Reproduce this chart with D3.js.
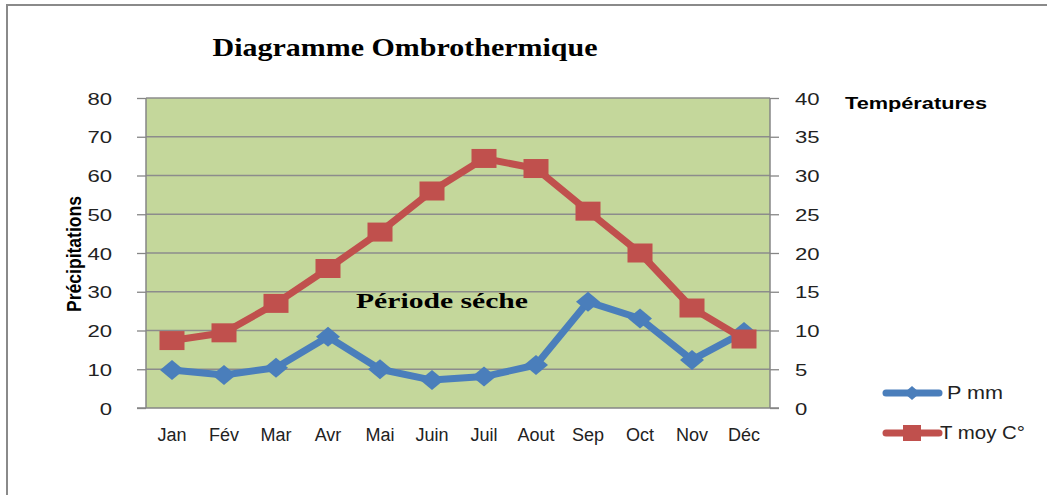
<!DOCTYPE html>
<html><head><meta charset="utf-8">
<script src="https://cdn.jsdelivr.net/npm/d3@7"></script>
<style>body{margin:0;background:#fff}svg{display:block}</style>
</head><body>
<svg id="c" width="1047" height="495"></svg>
<script>
const months = ["Jan","Fév","Mar","Avr","Mai","Juin","Juil","Aout","Sep","Oct","Nov","Déc"];
const precip = [9.8, 8.5, 10.4, 18.4, 10, 7.2, 8.1, 11.1, 27.4, 23.1, 12.4, 19.6];
const temp = [8.7, 9.7, 13.5, 18.0, 22.7, 28.0, 32.2, 30.9, 25.4, 20.0, 12.9, 8.9];
const leftTicks = [0,10,20,30,40,50,60,70,80];
const rightTicks = [0,5,10,15,20,25,30,35,40];
const seriesNames = ["P mm","T moy C°"];

const svg = d3.select("#c");
const L=146, R=770, T=98, B=408;
const x = d3.scaleBand().domain(months).range([L,R]);
const yL = d3.scaleLinear().domain([0,80]).range([B,T]);
const yR = d3.scaleLinear().domain([0,40]).range([B,T]);
const blue="#4a7ebb", red="#c0504d", grid="#8c8c8c";

// frame
svg.append("rect").attr("x",7).attr("y",5).attr("width",1060).attr("height",520)
  .attr("fill","none").attr("stroke","#8a8a8a").attr("stroke-width",2);

// plot bg
svg.append("rect").attr("x",L).attr("y",T).attr("width",R-L).attr("height",B-T).attr("fill","#c4d79b");

// gridlines
svg.append("g").selectAll("line").data(leftTicks.filter(d=>d>0)).join("line")
  .attr("x1",L).attr("x2",R).attr("y1",d=>yL(d)).attr("y2",d=>yL(d))
  .attr("stroke",grid).attr("stroke-width",1.5);

function stretch(sel, sx){
  sel.each(function(){
    const w=this.getComputedTextLength();
    d3.select(this).attr("textLength",w*sx).attr("lengthAdjust","spacingAndGlyphs");
  });
}

// left axis
const ga = svg.append("g").attr("transform",`translate(${L},0)`)
  .call(d3.axisLeft(yL).tickValues(leftTicks).tickSize(9).tickPadding(25));
ga.select(".domain").remove();
ga.selectAll("line").attr("stroke","#868686").attr("stroke-width",1.3);
ga.selectAll("text").attr("font-family","Liberation Sans, Arial").attr("font-size",17).attr("fill","#222").attr("dy","0.36em");
stretch(ga.selectAll("text"),1.3);
svg.append("line").attr("x1",L).attr("x2",L).attr("y1",T).attr("y2",B).attr("stroke","#868686").attr("stroke-width",1.5);

// right axis
const gr = svg.append("g").attr("transform",`translate(${R},0)`)
  .call(d3.axisRight(yR).tickValues(rightTicks).tickSize(9).tickPadding(16));
gr.select(".domain").remove();
gr.selectAll("line").attr("stroke","#868686").attr("stroke-width",1.3);
gr.selectAll("text").attr("font-family","Liberation Sans, Arial").attr("font-size",17).attr("fill","#222").attr("dy","0.36em");
stretch(gr.selectAll("text"),1.3);
svg.append("line").attr("x1",R).attr("x2",R).attr("y1",T).attr("y2",B).attr("stroke","#868686").attr("stroke-width",1.5);

// bottom axis
const gb = svg.append("g").attr("transform",`translate(0,${B})`)
  .call(d3.axisBottom(x).tickSize(0).tickPadding(20));
gb.select(".domain").remove();
gb.selectAll("text").attr("font-family","Liberation Sans, Arial").attr("font-size",18).attr("fill","#222");
svg.append("line").attr("x1",L-9).attr("x2",R+9).attr("y1",B).attr("y2",B).attr("stroke","#868686").attr("stroke-width",1.5);

// title
const title = svg.append("text").attr("x",405).attr("y",56).attr("text-anchor","middle")
  .attr("font-family","Liberation Serif, Times New Roman").attr("font-weight","bold").attr("font-size",26)
  .text("Diagramme Ombrothermique");
title.attr("textLength",385).attr("lengthAdjust","spacingAndGlyphs");

// axis titles
const lt = svg.append("text").attr("transform","translate(81,254) rotate(-90)").attr("text-anchor","middle")
  .attr("font-family","Liberation Sans, Arial").attr("font-weight","bold").attr("font-size",19.5)
  .text("Précipitations");
lt.attr("textLength",116).attr("lengthAdjust","spacingAndGlyphs");
const rt = svg.append("text").attr("x",845).attr("y",109)
  .attr("font-family","Liberation Sans, Arial").attr("font-weight","bold").attr("font-size",16.5)
  .text("Températures");
rt.attr("textLength",142).attr("lengthAdjust","spacingAndGlyphs");

// annotation
svg.append("text").attr("x",356).attr("y",308).attr("font-family","Liberation Serif, Times New Roman")
  .attr("font-weight","bold").attr("font-size",22).attr("textLength",172).attr("lengthAdjust","spacingAndGlyphs")
  .text("Période séche");

const cx = (d,i)=>x(months[i])+x.bandwidth()/2;
// precip line
svg.append("path").datum(precip).attr("fill","none").attr("stroke",blue).attr("stroke-width",7)
  .attr("stroke-linejoin","round")
  .attr("d",d3.line().x((d,i)=>cx(d,i)).y(d=>yL(d)));
svg.append("g").selectAll("path").data(precip).join("path")
  .attr("d",(d,i)=>{const X=cx(d,i),Y=yL(d);return `M${X-12},${Y}L${X},${Y-10}L${X+12},${Y}L${X},${Y+10}Z`;})
  .attr("fill",blue);

// temp line
svg.append("path").datum(temp).attr("fill","none").attr("stroke",red).attr("stroke-width",7)
  .attr("stroke-linejoin","round")
  .attr("d",d3.line().x((d,i)=>cx(d,i)).y(d=>yR(d)));
svg.append("g").selectAll("rect").data(temp).join("rect")
  .attr("x",(d,i)=>cx(d,i)-12.5).attr("y",d=>yR(d)-9.5).attr("width",25).attr("height",19)
  .attr("fill",red);

// legend
const lg = svg.append("g");
const items=[{n:seriesNames[0],c:blue,y:393,m:"d",tx:947,tw:56},{n:seriesNames[1],c:red,y:433,m:"s",tx:940,tw:85}];
items.forEach(it=>{
  lg.append("line").attr("x1",886).attr("x2",939).attr("y1",it.y).attr("y2",it.y)
    .attr("stroke",it.c).attr("stroke-width",7).attr("stroke-linecap","round");
  if(it.m==="d") lg.append("path").attr("d",`M${904},${it.y}L${912},${it.y-7}L${920},${it.y}L${912},${it.y+7}Z`).attr("fill",it.c);
  else lg.append("rect").attr("x",903).attr("y",it.y-8).attr("width",18).attr("height",16).attr("fill",it.c);
  lg.append("text").attr("x",it.tx).attr("y",it.y+6).attr("font-family","Liberation Sans, Arial")
    .attr("font-size",17.5).attr("fill","#222").attr("textLength",it.tw).attr("lengthAdjust","spacingAndGlyphs").text(it.n);
});
</script>
</body></html>
